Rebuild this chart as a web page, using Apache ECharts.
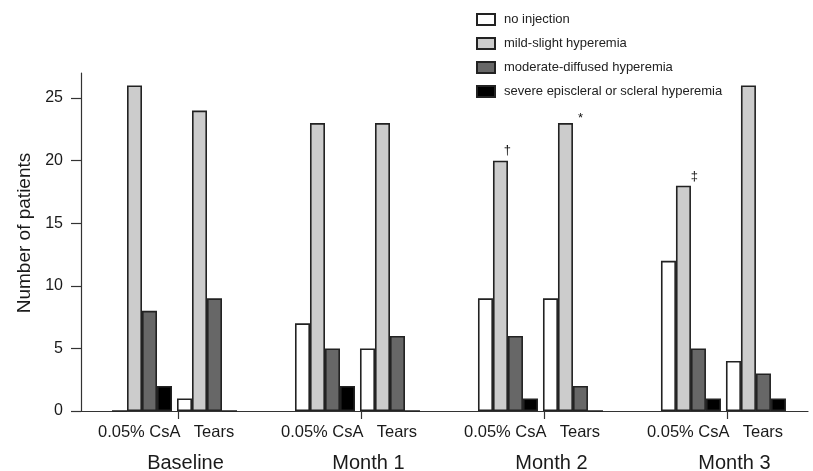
<!DOCTYPE html>
<html>
<head>
<meta charset="utf-8">
<title>Conjunctival hyperemia by visit</title>
<script src="https://cdn.jsdelivr.net/npm/echarts@6/dist/echarts.min.js"></script>
<style>
  html, body { margin: 0; padding: 0; background: #ffffff; }
  #chart { width: 813px; height: 471px; }
</style>
</head>
<body>
<div id="chart"></div>
<script>
// ---- Data ---------------------------------------------------------------
const timepoints = ['Baseline', 'Month 1', 'Month 2', 'Month 3'];
const treatments = ['0.05% CsA', 'Tears'];
const grades = [
  'no injection',
  'mild-slight hyperemia',
  'moderate-diffused hyperemia',
  'severe episcleral or scleral hyperemia'
];
// Number of patients, listed visit by visit as [CsA, Tears] pairs
const noInjection      = [0, 1,   7, 5,   9, 9,   12, 4];
const mildSlight       = [26, 24, 23, 23, 20, 23, 18, 26];
const moderateDiffused = [8, 9,   5, 6,   6, 2,   5, 3];
const severe           = [2, 0,   2, 0,   1, 0,   1, 1];
const yTicks = [0, 5, 10, 15, 20, 25];
// Significance symbols on the mild-slight bars: [pair index, symbol]
const marks = [[4, '\u2020'], [5, '*'], [6, '\u2021']];

// ---- Layout helpers (x axis in "visit" units, visit i centred on i) ------
const X_MIN = -0.511, X_MAX = 3.462;
const SUB = 0.1776;                      // half distance between CsA and Tears clusters
const posOf = k => Math.floor(k / 2) + (k % 2 ? SUB : -SUB);
const subLabelPos = [], subLabelText = [];
timepoints.forEach((t, i) => {
  subLabelPos.push(i - SUB - 0.015); subLabelText.push(treatments[0]);
  subLabelPos.push(i + SUB + 0.038); subLabelText.push(treatments[1]);
});
const groupTickPos = timepoints.map((t, i) => i + 0.018);
const groupLabelPos = timepoints.map((t, i) => i + 0.06);
const lookup = (positions, texts) => v => {
  const idx = positions.findIndex(p => Math.abs(p - v) < 1e-6);
  return idx >= 0 ? texts[idx] : '';
};

const markStyle = {
  '\u2020': { offset: [7, 0], distance: 4 },
  '*':      { offset: [15, 2], distance: 0 },
  '\u2021': { offset: [11, 0], distance: 3 }
};

const fills = ['#ffffff', '#cccccc', '#676767', '#000000'];
const seriesValues = [noInjection, mildSlight, moderateDiffused, severe];

const series = seriesValues.map((vals, s) => ({
  name: grades[s],
  type: 'bar',
  barWidth: 15,
  barGap: '0%',
  itemStyle: { color: fills[s], borderColor: '#222222', borderWidth: 1.6 },
  emphasis: { disabled: true },
  data: vals.map((v, k) => {
    const item = { value: [posOf(k), v] };
    if (s === 1) {
      const m = marks.find(mk => mk[0] === k);
      if (m) {
        const st = markStyle[m[1]];
        item.label = {
          show: true, position: 'top', formatter: m[1],
          distance: st.distance, offset: st.offset,
          fontSize: 13, color: '#111', fontFamily: 'Liberation Sans, Arial, sans-serif'
        };
      }
    }
    return item;
  })
}));

const axisColor = '#333333';
const font = 'Liberation Sans, Arial, Helvetica, sans-serif';

const chart = echarts.init(document.getElementById('chart'), null, { renderer: 'canvas' });
chart.setOption({
  animation: false,
  backgroundColor: '#ffffff',
  textStyle: { fontFamily: font },
  grid: { left: 81, right: 5, top: 73, bottom: 60, containLabel: false, outerBoundsMode: 'none' },
  legend: {
    orient: 'vertical',
    left: 471,
    top: 8,
    icon: 'rect',
    itemWidth: 18,
    itemHeight: 11,
    itemGap: 11,
    selectedMode: false,
    data: grades,
    textStyle: { fontSize: 13, color: '#222', fontFamily: font, padding: [0, 0, 0, 4] }
  },
  xAxis: [
    {
      type: 'value',
      min: X_MIN,
      max: X_MAX,
      position: 'bottom',
      splitLine: { show: false },
      axisLine: { show: true, onZero: false, lineStyle: { color: axisColor, width: 1.2 } },
      axisTick: { show: true, length: 8, customValues: groupTickPos, lineStyle: { color: axisColor, width: 1.2 } },
      axisLabel: {
        customValues: subLabelPos,
        formatter: lookup(subLabelPos, subLabelText),
        fontSize: 16.5, color: '#1a1a1a', margin: 13, fontFamily: font
      }
    },
    {
      type: 'value',
      min: X_MIN,
      max: X_MAX,
      position: 'bottom',
      splitLine: { show: false },
      axisLine: { show: false, onZero: false },
      axisTick: { show: false },
      axisLabel: {
        customValues: groupLabelPos,
        formatter: lookup(groupLabelPos, timepoints),
        fontSize: 20, color: '#1a1a1a', margin: 42, fontFamily: font
      }
    }
  ],
  yAxis: {
    type: 'value',
    min: 0,
    max: 27,
    interval: 5,
    splitLine: { show: false },
    axisLine: { show: true, onZero: false, lineStyle: { color: axisColor, width: 1.2 } },
    axisTick: { show: true, length: 10, customValues: yTicks, lineStyle: { color: axisColor, width: 1.2 } },
    axisLabel: { customValues: yTicks, fontSize: 16, color: '#1a1a1a', margin: 18, fontFamily: font },
    name: 'Number of patients',
    nameLocation: 'middle',
    nameGap: 46,
    nameTextStyle: { fontSize: 19, color: '#1a1a1a', fontFamily: font, padding: [0, 0, 0, 18] }
  },
  series: series
});
</script>
</body>
</html>
